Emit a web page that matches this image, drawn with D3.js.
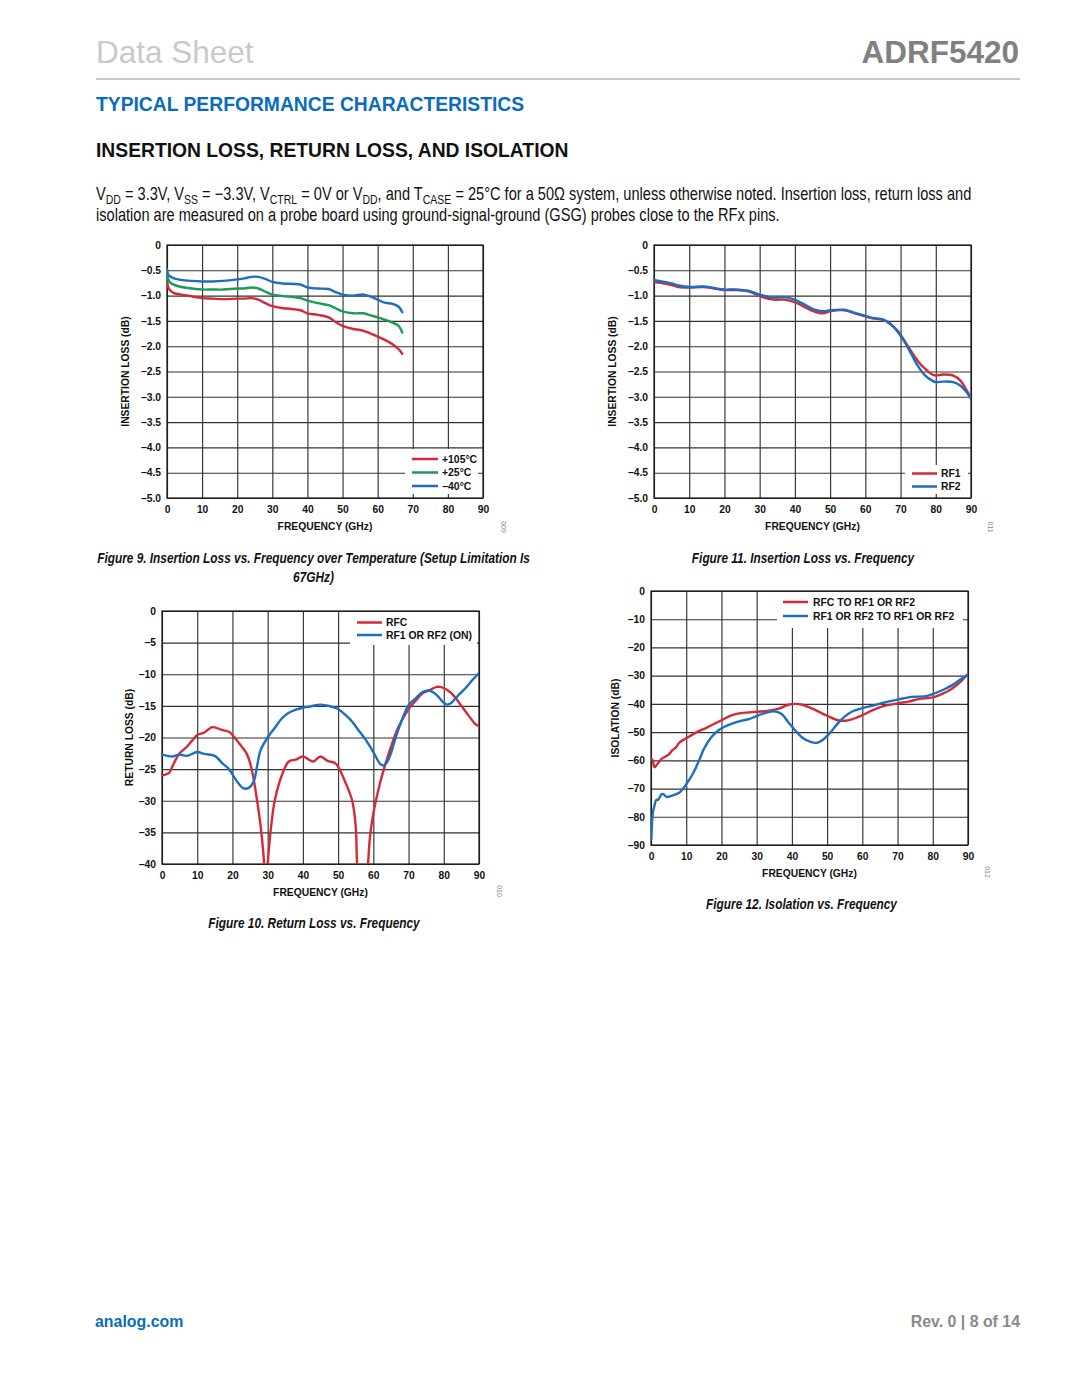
<!DOCTYPE html>
<html>
<head>
<meta charset="utf-8">
<script src="https://cdn.jsdelivr.net/npm/d3@7/dist/d3.min.js"></script>
<style>
  html, body { margin: 0; padding: 0; background: #fff; }
  svg { display: block; }
</style>
</head>
<body>
<svg id="page" width="1080" height="1397"></svg>
<script>
// ---------------- DATA ----------------
const freqTicks = [0, 10, 20, 30, 40, 50, 60, 70, 80, 90];
const ilTicks = [0, -0.5, -1.0, -1.5, -2.0, -2.5, -3.0, -3.5, -4.0, -4.5, -5.0];
const rlTicks = [0, -5, -10, -15, -20, -25, -30, -35, -40];
const isoTicks = [0, -10, -20, -30, -40, -50, -60, -70, -80, -90];

// Figure 9: insertion loss over temperature [GHz, dB]
const il105C = [[0,-0.72],[0.5,-0.86],[1,-0.9],[2,-0.95],[4,-0.98],[6,-1.0],[8,-1.03],[10,-1.05],[13,-1.06],[16,-1.07],[20,-1.06],[22,-1.06],[24,-1.05],[26,-1.08],[28,-1.15],[30,-1.21],[33,-1.25],[35,-1.26],[38,-1.29],[40,-1.35],[43,-1.38],[46,-1.43],[48,-1.52],[50,-1.6],[53,-1.66],[55,-1.68],[57,-1.72],[60,-1.81],[63,-1.91],[65,-2.0],[66,-2.06],[67,-2.15]];
const il25C = [[0,-0.58],[0.5,-0.7],[1,-0.75],[3,-0.81],[6,-0.85],[10,-0.88],[13,-0.88],[16,-0.88],[20,-0.86],[22,-0.86],[24,-0.84],[26,-0.86],[28,-0.92],[30,-0.98],[33,-1.01],[36,-1.03],[38,-1.05],[40,-1.1],[43,-1.15],[46,-1.19],[48,-1.25],[50,-1.31],[53,-1.35],[56,-1.35],[58,-1.39],[60,-1.43],[63,-1.5],[65,-1.56],[66,-1.6],[67,-1.73]];
const ilM40C = [[0,-0.48],[0.5,-0.6],[2,-0.66],[5,-0.7],[10,-0.72],[13,-0.72],[16,-0.71],[20,-0.68],[22,-0.66],[24,-0.63],[26,-0.63],[28,-0.67],[30,-0.73],[33,-0.76],[36,-0.77],[38,-0.78],[40,-0.84],[43,-0.86],[46,-0.87],[48,-0.93],[50,-0.98],[53,-1.0],[56,-0.98],[58,-1.02],[60,-1.08],[62,-1.14],[64,-1.16],[66,-1.22],[67,-1.33]];

// Figure 11: insertion loss RF1 / RF2
const ilRF1 = [[0,-0.73],[3,-0.76],[5,-0.79],[7,-0.83],[10,-0.84],[14,-0.83],[17,-0.86],[20,-0.89],[23,-0.89],[27,-0.92],[30,-1.01],[34,-1.08],[37,-1.08],[40,-1.13],[42,-1.2],[45,-1.3],[48,-1.35],[50,-1.31],[54,-1.29],[57,-1.35],[60,-1.41],[62,-1.45],[65,-1.48],[67,-1.56],[69,-1.68],[71,-1.88],[73,-2.1],[75,-2.3],[77,-2.45],[79,-2.56],[80,-2.58],[82,-2.56],[85,-2.58],[87,-2.68],[89,-2.9],[90,-3.02]];
const ilRF2 = [[0,-0.69],[3,-0.73],[5,-0.76],[7,-0.8],[10,-0.83],[14,-0.82],[17,-0.85],[20,-0.88],[23,-0.88],[27,-0.91],[30,-0.98],[34,-1.04],[37,-1.03],[40,-1.08],[42,-1.15],[45,-1.26],[48,-1.31],[50,-1.29],[54,-1.28],[57,-1.34],[60,-1.4],[62,-1.44],[65,-1.47],[67,-1.55],[69,-1.7],[71,-1.9],[73,-2.15],[75,-2.4],[77,-2.58],[79,-2.68],[80,-2.71],[82,-2.7],[85,-2.71],[87,-2.78],[89,-2.93],[90,-3.04]];

// Figure 10: return loss
const rlRFC = [[0,-26],[2,-25.6],[3,-24.5],[5,-22.5],[7,-21.5],[9,-20.2],[10,-19.6],[12,-19.2],[14,-18.4],[15,-18.4],[17,-18.8],[19,-19.1],[20,-19.6],[22,-21],[24,-22.5],[25,-24],[26,-26.5],[27,-30],[28,-34],[29,-40],[29.4,-46],[30,-40],[31,-34],[32,-30],[34,-26],[36,-23.8],[38,-23.5],[40,-23],[42,-23.6],[43,-23.8],[45,-23],[47,-23.7],[49,-24],[50,-24.6],[52,-27],[54,-30],[55,-34],[55.4,-40],[57,-50],[58.5,-40],[59,-36],[60,-32],[62,-27],[63,-25],[65,-21.5],[67,-18.5],[70,-15.5],[72,-14.2],[74,-13],[76,-12.5],[78,-12],[79,-12],[81,-12.5],[83,-13.5],[85,-15],[87,-16.5],[89,-17.9],[90,-18.2]];
const rlRFx = [[0,-22.7],[3,-23],[5,-22.7],[7,-22.9],[10,-22.3],[12,-22.6],[15,-22.9],[17,-24],[19,-25],[21,-26.7],[23,-28],[24.5,-28],[26,-27],[27,-24.5],[28,-22],[30,-20],[32,-18.5],[34,-17],[36,-16.1],[38,-15.6],[40,-15.3],[42,-15.1],[45,-14.8],[48,-15.1],[50,-15.5],[52,-16.4],[54,-17.5],[56,-19],[58,-20.5],[60,-22.3],[62,-24.2],[63,-24.4],[64,-23.8],[65,-22.5],[66,-20.6],[68,-17.4],[70,-14.9],[72,-13.8],[74,-12.8],[76,-12.6],[78,-13.3],[80,-14.5],[81,-14.8],[82,-14.6],[84,-13.4],[86,-12.3],[88,-11],[90,-9.8]];

// Figure 12: isolation
const isoRFC = [[0,-59.5],[0.5,-60],[1,-62.5],[2,-61],[3,-59.5],[5,-58],[6,-56.5],[7,-55.5],[8,-53.8],[10,-52.2],[13,-50],[16,-48.3],[20,-45.8],[23,-44],[26,-43.2],[30,-42.8],[33,-42.5],[36,-41.8],[39,-40.3],[41,-40],[43,-40.3],[46,-41.8],[50,-44.2],[53,-45.8],[55,-46],[57,-45.5],[60,-44],[63,-42.2],[66,-40.8],[70,-39.8],[73,-39.2],[76,-38.3],[80,-37.7],[82,-36.8],[85,-35],[88,-32],[90,-29.3]];
const isoRFx = [[0.1,-88],[0.3,-82],[0.6,-78],[1,-76],[1.5,-74],[2,-74],[3,-72],[3.5,-72],[4.5,-73],[6,-72.5],[8,-71.5],[10,-68.5],[12,-64.5],[14,-59],[15,-56],[17,-52],[19,-49.5],[21,-48],[23,-47],[25,-46.2],[28,-45.3],[30,-44.3],[33,-43],[35,-42.6],[37,-43.5],[39,-46.5],[41,-49.5],[43,-52],[45,-53.3],[47,-53.8],[49,-52.5],[51,-50],[53,-47],[55,-44.5],[57,-42.8],[60,-41.5],[63,-40.6],[66,-39.6],[70,-38.5],[74,-37.5],[78,-37.3],[80,-36.5],[83,-35],[86,-33],[88,-31.2],[90,-29.7]];

// ---------------- STYLE ----------------
const RED = '#d42a36', GREEN = '#1c9a5a', BLUE = '#1b6ec2';
const svg = d3.select('#page');
const SANS = "'Liberation Sans', Arial, Helvetica, sans-serif";

// condensed text: Liberation Sans squeezed horizontally (no narrow face installed)
function squeezed(x, y, anchor, size, weight, style, parts, k) {
  const g = svg.append('g').attr('transform', `translate(${x},${y}) scale(${k},1)`);
  const t = g.append('text').attr('x', 0).attr('y', 0).attr('text-anchor', anchor)
    .attr('font-family', SANS).attr('font-size', size).attr('font-weight', weight)
    .attr('font-style', style).attr('fill', '#111');
  let shifted = false;
  parts.forEach(p => {
    const sub = p[0] === '_';
    const s = t.append('tspan').text(sub ? p.slice(1) : p);
    if (sub) { s.attr('font-size', size * 0.72); if (!shifted) { s.attr('dy', 4); shifted = true; } }
    else if (shifted) { s.attr('dy', -4); shifted = false; }
  });
  return { g, t };
}
function naturalWidth(size, weight, style, str) {
  const t = svg.append('text').attr('font-family', SANS).attr('font-size', size)
    .attr('font-weight', weight).attr('font-style', style).text(str);
  const w = t.node().getComputedTextLength();
  t.remove();
  return w;
}

// ---------------- HEADER ----------------
svg.append('text').attr('x', 96).attr('y', 63).attr('font-family', SANS).attr('font-size', 31.5)
  .attr('fill', '#c9c9c9').text('Data Sheet');
svg.append('text').attr('x', 1019).attr('y', 63).attr('text-anchor', 'end').attr('font-family', SANS)
  .attr('font-size', 31.5).attr('font-weight', 'bold').attr('fill', '#808080').text('ADRF5420');
svg.append('line').attr('x1', 96).attr('x2', 1020).attr('y1', 79).attr('y2', 79)
  .attr('stroke', '#b5b5b5').attr('stroke-width', 1.5);
svg.append('text').attr('x', 96).attr('y', 111).attr('font-family', SANS).attr('font-size', 19.3)
  .attr('font-weight', 'bold').attr('fill', '#0a6cbc').text('TYPICAL PERFORMANCE CHARACTERISTICS');
svg.append('text').attr('x', 96).attr('y', 157).attr('font-family', SANS).attr('font-size', 19.3)
  .attr('font-weight', 'bold').attr('fill', '#111').text('INSERTION LOSS, RETURN LOSS, AND ISOLATION');

// paragraph
const para1 = ['V', '_DD', ' = 3.3V, V', '_SS', ' = \u22123.3V, V', '_CTRL', ' = 0V or V', '_DD', ', and T', '_CASE',
  ' = 25\u00B0C for a 50\u03A9 system, unless otherwise noted. Insertion loss, return loss and'];
const para2 = ['isolation are measured on a probe board using ground-signal-ground (GSG) probes close to the RFx pins.'];
{
  const p = squeezed(96, 200, 'start', 18, 'normal', 'normal', para1, 1);
  const w = p.t.node().getBBox().width;
  const k = 876 / w;
  p.g.attr('transform', `translate(96,200) scale(${k},1)`);
  squeezed(96, 221, 'start', 18, 'normal', 'normal', para2, k);
}

// caption squeeze factor from Figure 9 caption
const CAP_SIZE = 14.5;
const cap9a = 'Figure 9. Insertion Loss vs. Frequency over Temperature (Setup Limitation Is';
const capK = 433 / naturalWidth(CAP_SIZE, 'bold', 'italic', cap9a);

// ---------------- CHARTS ----------------
function fmtIL(d) { return d === 0 ? '0' : '\u2212' + Math.abs(d).toFixed(1); }
function fmtInt(d) { return d === 0 ? '0' : '\u2212' + Math.abs(d); }

let clipId = 0;
function drawChart(c) {
  const x = d3.scaleLinear().domain([0, 90]).range([c.left, c.left + c.w]);
  const y = d3.scaleLinear().domain(c.ydom).range([c.top + c.h, c.top]);
  const g = svg.append('g');

  // grid
  g.append('g').attr('transform', `translate(0,${c.top + c.h})`)
    .call(d3.axisBottom(x).tickValues(freqTicks).tickSize(-c.h).tickFormat(''))
    .call(s => { s.select('.domain').remove(); s.selectAll('line').attr('stroke', '#333').attr('stroke-width', 1.15); });
  g.append('g').attr('transform', `translate(${c.left},0)`)
    .call(d3.axisLeft(y).tickValues(c.yticks).tickSize(-c.w).tickFormat(''))
    .call(s => { s.select('.domain').remove(); s.selectAll('line').attr('stroke', '#333').attr('stroke-width', 1.15); });

  // legend box (white, hides grid)
  const L = c.legend;
  g.append('rect').attr('x', L.box[0]).attr('y', L.box[1]).attr('width', L.box[2] - L.box[0])
    .attr('height', L.box[3] - L.box[1]).attr('fill', '#fff');

  // border
  g.append('rect').attr('x', c.left).attr('y', c.top).attr('width', c.w).attr('height', c.h)
    .attr('fill', 'none').attr('stroke', '#111').attr('stroke-width', 1.15);

  // tick labels
  const ax = g.append('g').attr('transform', `translate(0,${c.top + c.h})`)
    .call(d3.axisBottom(x).tickValues(freqTicks).tickSize(0).tickPadding(8).tickFormat(d => d));
  ax.select('.domain').remove();
  ax.selectAll('text').attr('font-family', SANS).attr('font-size', 10.3).attr('font-weight', 'bold').attr('fill', '#111');
  const ay = g.append('g').attr('transform', `translate(${c.left},0)`)
    .call(d3.axisLeft(y).tickValues(c.yticks).tickSize(0).tickPadding(6).tickFormat(c.fmt));
  ay.select('.domain').remove();
  ay.selectAll('text').attr('font-family', SANS).attr('font-size', 10.3).attr('font-weight', 'bold').attr('fill', '#111');

  // axis titles
  g.append('text').attr('x', c.left + c.w / 2).attr('y', c.top + c.h + 31.5).attr('text-anchor', 'middle')
    .attr('font-family', SANS).attr('font-size', 10.3).attr('font-weight', 'bold').attr('fill', '#111')
    .text('FREQUENCY (GHz)');
  const ytx = c.left + c.ytitleDx, yty = c.top + c.h / 2;
  g.append('text').attr('transform', `translate(${ytx},${yty}) rotate(-90)`).attr('text-anchor', 'middle')
    .attr('dy', '0.35em').attr('font-family', SANS).attr('font-size', 10.3).attr('font-weight', 'bold')
    .attr('fill', '#111').text(c.ytitle);

  // lines
  const id = 'clip' + (clipId++);
  svg.append('clipPath').attr('id', id).append('rect').attr('x', c.left).attr('y', c.top)
    .attr('width', c.w).attr('height', c.h);
  const line = d3.line().x(d => x(d[0])).y(d => y(d[1])).curve(d3.curveCatmullRom.alpha(0.5));
  const lg = g.append('g').attr('clip-path', `url(#${id})`);
  c.series.forEach(s => {
    lg.append('path').datum(s.data).attr('d', line).attr('fill', 'none').attr('stroke', s.color)
      .attr('stroke-width', 2.4).attr('stroke-linejoin', 'round').attr('stroke-linecap', 'round');
  });

  // legend entries
  c.series.forEach((s, i) => {
    g.append('line').attr('x1', L.x0).attr('x2', L.x1).attr('y1', L.ys[i]).attr('y2', L.ys[i])
      .attr('stroke', s.color).attr('stroke-width', 2.5);
    g.append('text').attr('x', L.tx).attr('y', L.ys[i]).attr('dy', '0.35em').attr('font-family', SANS)
      .attr('font-size', 10.4).attr('font-weight', 'bold').attr('fill', '#111').text(s.name);
  });

  // figure id
  g.append('text').attr('transform', `translate(${c.idPos[0]},${c.idPos[1]}) rotate(90)`)
    .attr('text-anchor', 'middle').attr('dy', '0.35em').attr('font-family', SANS).attr('font-size', 7)
    .attr('fill', '#8a8a8a').text(c.id);

  // caption
  c.caption.forEach((t, i) => {
    squeezed(c.capX, c.capY + i * 19, 'middle', CAP_SIZE, 'bold', 'italic', [t], capK);
  });
}

drawChart({
  left: 167, top: 245, w: 316, h: 253, ydom: [-5, 0], yticks: ilTicks, fmt: fmtIL,
  ytitle: 'INSERTION LOSS (dB)', ytitleDx: -42,
  series: [{ name: '+105\u00B0C', data: il105C, color: RED }, { name: '+25\u00B0C', data: il25C, color: GREEN },
           { name: '\u221240\u00B0C', data: ilM40C, color: BLUE }],
  legend: { x0: 412, x1: 438, tx: 442, ys: [459, 472.5, 486], box: [405, 449, 478, 494] },
  id: '009', idPos: [503, 527],
  caption: [cap9a, '67GHz)'],
  capX: 313.5, capY: 563
});

drawChart({
  left: 654, top: 245, w: 317, h: 253, ydom: [-5, 0], yticks: ilTicks, fmt: fmtIL,
  ytitle: 'INSERTION LOSS (dB)', ytitleDx: -42,
  series: [{ name: 'RF1', data: ilRF1, color: RED }, { name: 'RF2', data: ilRF2, color: BLUE }],
  legend: { x0: 912, x1: 937, tx: 941, ys: [473.5, 486.5], box: [905, 465, 968, 494] },
  id: '011', idPos: [990, 527],
  caption: ['Figure 11. Insertion Loss vs. Frequency'],
  capX: 803, capY: 563
});

drawChart({
  left: 162, top: 611, w: 317, h: 253, ydom: [-40, 0], yticks: rlTicks, fmt: fmtInt,
  ytitle: 'RETURN LOSS (dB)', ytitleDx: -33,
  series: [{ name: 'RFC', data: rlRFC, color: RED }, { name: 'RF1 OR RF2 (ON)', data: rlRFx, color: BLUE }],
  legend: { x0: 357, x1: 382, tx: 386, ys: [622.5, 635], box: [350, 612, 477, 645] },
  id: '010', idPos: [499, 891],
  caption: ['Figure 10. Return Loss vs. Frequency'],
  capX: 314, capY: 928
});

drawChart({
  left: 651, top: 591, w: 317, h: 254, ydom: [-90, 0], yticks: isoTicks, fmt: fmtInt,
  ytitle: 'ISOLATION (dB)', ytitleDx: -36,
  series: [{ name: 'RFC TO RF1 OR RF2', data: isoRFC, color: RED }, { name: 'RF1 OR RF2 TO RF1 OR RF2', data: isoRFx, color: BLUE }],
  legend: { x0: 783, x1: 808, tx: 813, ys: [602, 616], box: [777, 592, 963, 628] },
  id: '012', idPos: [987, 872],
  caption: ['Figure 12. Isolation vs. Frequency'],
  capX: 801.5, capY: 909
});

// ---------------- FOOTER ----------------
svg.append('text').attr('x', 95).attr('y', 1327).attr('font-family', SANS).attr('font-size', 15.9)
  .attr('font-weight', 'bold').attr('fill', '#0a6cbc').text('analog.com');
svg.append('text').attr('x', 1020).attr('y', 1327).attr('text-anchor', 'end').attr('font-family', SANS)
  .attr('font-size', 15.9).attr('font-weight', 'bold').attr('fill', '#8a8a8a').text('Rev. 0 | 8 of 14');
</script>
</body>
</html>
